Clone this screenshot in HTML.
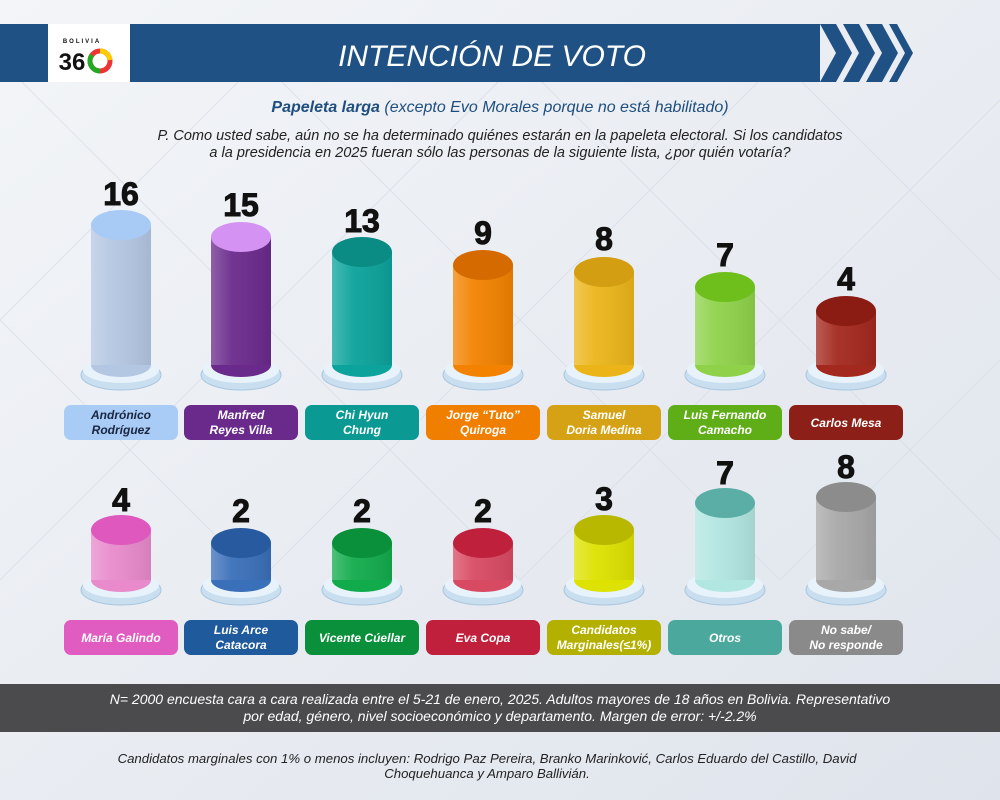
<!DOCTYPE html>
<html><head><meta charset="utf-8"><style>
body{margin:0;width:1000px;height:800px;overflow:hidden;background:#e9edf3;font-family:"Liberation Sans",sans-serif}
svg{display:block}
.n{font:900 32px "Liberation Sans",sans-serif;fill:#111;text-anchor:middle;stroke:#111;stroke-width:1}
.l{font:italic bold 12px "Liberation Sans",sans-serif;fill:#fff;text-anchor:middle}
</style></head><body>
<svg width="1000" height="800" viewBox="0 0 1000 800">
<defs>
<linearGradient id="bg" x1="0" y1="0" x2="1" y2="1"><stop offset="0" stop-color="#f3f5f8"/><stop offset="1" stop-color="#dfe4ec"/></linearGradient>
<linearGradient id="sh" x1="0" x2="1"><stop offset="0" stop-color="#fff" stop-opacity=".25"/><stop offset=".35" stop-color="#fff" stop-opacity=".05"/><stop offset="1" stop-color="#000" stop-opacity=".08"/></linearGradient>
</defs>
<rect width="1000" height="800" fill="url(#bg)"/>
<g stroke="#d6dce6" stroke-width="1" opacity=".7">
<path d="M0 60L260 320 M0 320L260 60 M260 60L520 320 M260 320L520 60 M520 60L780 320 M520 320L780 60 M780 60L1040 320 M780 320L1040 60 M0 320L260 580 M0 580L260 320 M260 320L520 580 M260 580L520 320 M520 320L780 580 M520 580L780 320 M780 320L1040 580 M780 580L1040 320"/>
</g>
<rect x="0" y="24" width="820" height="58" fill="#1f5184"/>
<polygon points="820,24 836,24 852,53 836,82 820,82 836,53" fill="#1f5184"/>
<polygon points="843,24 859,24 875,53 859,82 843,82 859,53" fill="#1f5184"/>
<polygon points="866,24 882,24 898,53 882,82 866,82 882,53" fill="#1f5184"/>
<polygon points="889,24 897,24 913,53 897,82 889,82 905,53" fill="#1f5184"/>
<rect x="48" y="24" width="82" height="58" fill="#fff"/>
<text x="82" y="43" style="font:bold 6px 'Liberation Sans';letter-spacing:2px" text-anchor="middle" fill="#111">BOLIVIA</text>
<text x="72" y="70" style="font:900 24px 'Liberation Sans'" text-anchor="middle" fill="#111">36</text>
<circle cx="100" cy="61" r="10" fill="none" stroke="#e33" stroke-width="5"/>
<path d="M92 55 A10 10 0 0 0 100 71" fill="none" stroke="#2a2" stroke-width="5"/>
<path d="M100 51 A10 10 0 0 1 110 60" fill="none" stroke="#fc0" stroke-width="5"/>
<text x="492" y="66" style="font:italic 30px 'Liberation Sans'" text-anchor="middle" fill="#fff">INTENCIÓN DE VOTO</text>
<text x="500" y="112" text-anchor="middle" style="font:italic 16px 'Liberation Sans'" fill="#1f4e7e"><tspan font-weight="bold">Papeleta larga</tspan> (excepto Evo Morales porque no está habilitado)</text>
<text x="500" y="140" text-anchor="middle" style="font:italic 14.5px 'Liberation Sans'" fill="#222">P. Como usted sabe, aún no se ha determinado quiénes estarán en la papeleta electoral. Si los candidatos</text>
<text x="500" y="157" text-anchor="middle" style="font:italic 14.5px 'Liberation Sans'" fill="#222">a la presidencia en 2025 fueran sólo las personas de la siguiente lista, ¿por quién votaría?</text>

<g>
<g fill="#c9dff0" stroke="#a9c6de">
<ellipse cx="121" cy="375" rx="40" ry="15"/><ellipse cx="241" cy="375" rx="40" ry="15"/><ellipse cx="362" cy="375" rx="40" ry="15"/><ellipse cx="483" cy="375" rx="40" ry="15"/><ellipse cx="604" cy="375" rx="40" ry="15"/><ellipse cx="725" cy="375" rx="40" ry="15"/><ellipse cx="846" cy="375" rx="40" ry="15"/>
<ellipse cx="121" cy="590" rx="40" ry="15"/><ellipse cx="241" cy="590" rx="40" ry="15"/><ellipse cx="362" cy="590" rx="40" ry="15"/><ellipse cx="483" cy="590" rx="40" ry="15"/><ellipse cx="604" cy="590" rx="40" ry="15"/><ellipse cx="725" cy="590" rx="40" ry="15"/><ellipse cx="846" cy="590" rx="40" ry="15"/>
</g>
<g fill="#e8f2fa">
<ellipse cx="121" cy="370" rx="38" ry="13"/><ellipse cx="241" cy="370" rx="38" ry="13"/><ellipse cx="362" cy="370" rx="38" ry="13"/><ellipse cx="483" cy="370" rx="38" ry="13"/><ellipse cx="604" cy="370" rx="38" ry="13"/><ellipse cx="725" cy="370" rx="38" ry="13"/><ellipse cx="846" cy="370" rx="38" ry="13"/>
<ellipse cx="121" cy="585" rx="38" ry="13"/><ellipse cx="241" cy="585" rx="38" ry="13"/><ellipse cx="362" cy="585" rx="38" ry="13"/><ellipse cx="483" cy="585" rx="38" ry="13"/><ellipse cx="604" cy="585" rx="38" ry="13"/><ellipse cx="725" cy="585" rx="38" ry="13"/><ellipse cx="846" cy="585" rx="38" ry="13"/>
</g>
</g>
<g>
<rect x="91" y="225" width="60" height="140" fill="#b4c7e2"/><ellipse cx="121" cy="365" rx="30" ry="12" fill="#b4c7e2"/><rect x="91" y="225" width="60" height="140" fill="url(#sh)"/><ellipse cx="121" cy="225" rx="30" ry="15" fill="#a8cbf6"/>
<rect x="211" y="237" width="60" height="128" fill="#6a2a8c"/><ellipse cx="241" cy="365" rx="30" ry="12" fill="#6a2a8c"/><rect x="211" y="237" width="60" height="128" fill="url(#sh)"/><ellipse cx="241" cy="237" rx="30" ry="15" fill="#d492f2"/>
<rect x="332" y="252" width="60" height="113" fill="#0ba39b"/><ellipse cx="362" cy="365" rx="30" ry="12" fill="#0ba39b"/><rect x="332" y="252" width="60" height="113" fill="url(#sh)"/><ellipse cx="362" cy="252" rx="30" ry="15" fill="#0a8c85"/>
<rect x="453" y="265" width="60" height="100" fill="#f28200"/><ellipse cx="483" cy="365" rx="30" ry="12" fill="#f28200"/><rect x="453" y="265" width="60" height="100" fill="url(#sh)"/><ellipse cx="483" cy="265" rx="30" ry="15" fill="#d56b00"/>
<rect x="574" y="272" width="60" height="93" fill="#ebb51a"/><ellipse cx="604" cy="365" rx="30" ry="12" fill="#ebb51a"/><rect x="574" y="272" width="60" height="93" fill="url(#sh)"/><ellipse cx="604" cy="272" rx="30" ry="15" fill="#d39e12"/>
<rect x="695" y="287" width="60" height="78" fill="#8fd24a"/><ellipse cx="725" cy="365" rx="30" ry="12" fill="#8fd24a"/><rect x="695" y="287" width="60" height="78" fill="url(#sh)"/><ellipse cx="725" cy="287" rx="30" ry="15" fill="#6ebf1c"/>
<rect x="816" y="311" width="60" height="54" fill="#a3281e"/><ellipse cx="846" cy="365" rx="30" ry="12" fill="#a3281e"/><rect x="816" y="311" width="60" height="54" fill="url(#sh)"/><ellipse cx="846" cy="311" rx="30" ry="15" fill="#8a1c14"/>
</g>
<g>
<rect x="91" y="530" width="60" height="50" fill="#e88acc"/><ellipse cx="121" cy="580" rx="30" ry="12" fill="#e88acc"/><rect x="91" y="530" width="60" height="50" fill="url(#sh)"/><ellipse cx="121" cy="530" rx="30" ry="15" fill="#de58bd"/>
<rect x="211" y="543" width="60" height="37" fill="#3a6fb9"/><ellipse cx="241" cy="580" rx="30" ry="12" fill="#3a6fb9"/><rect x="211" y="543" width="60" height="37" fill="url(#sh)"/><ellipse cx="241" cy="543" rx="30" ry="15" fill="#275a9e"/>
<rect x="332" y="543" width="60" height="37" fill="#12ab4c"/><ellipse cx="362" cy="580" rx="30" ry="12" fill="#12ab4c"/><rect x="332" y="543" width="60" height="37" fill="url(#sh)"/><ellipse cx="362" cy="543" rx="30" ry="15" fill="#0a8f3a"/>
<rect x="453" y="543" width="60" height="37" fill="#d84a62"/><ellipse cx="483" cy="580" rx="30" ry="12" fill="#d84a62"/><rect x="453" y="543" width="60" height="37" fill="url(#sh)"/><ellipse cx="483" cy="543" rx="30" ry="15" fill="#bf213d"/>
<rect x="574" y="530" width="60" height="50" fill="#dde200"/><ellipse cx="604" cy="580" rx="30" ry="12" fill="#dde200"/><rect x="574" y="530" width="60" height="50" fill="url(#sh)"/><ellipse cx="604" cy="530" rx="30" ry="15" fill="#b8b800"/>
<rect x="695" y="503" width="60" height="77" fill="#b2e6e0"/><ellipse cx="725" cy="580" rx="30" ry="12" fill="#b2e6e0"/><rect x="695" y="503" width="60" height="77" fill="url(#sh)"/><ellipse cx="725" cy="503" rx="30" ry="15" fill="#5aaea6"/>
<rect x="816" y="497" width="60" height="83" fill="#a8a8a8"/><ellipse cx="846" cy="580" rx="30" ry="12" fill="#a8a8a8"/><rect x="816" y="497" width="60" height="83" fill="url(#sh)"/><ellipse cx="846" cy="497" rx="30" ry="15" fill="#8c8c8c"/>
</g>
<text class="n" x="121" y="205">16</text><text class="n" x="241" y="216">15</text><text class="n" x="362" y="232">13</text><text class="n" x="483" y="244">9</text><text class="n" x="604" y="250">8</text><text class="n" x="725" y="266">7</text><text class="n" x="846" y="290">4</text>
<text class="n" x="121" y="511">4</text><text class="n" x="241" y="522">2</text><text class="n" x="362" y="522">2</text><text class="n" x="483" y="522">2</text><text class="n" x="604" y="510">3</text><text class="n" x="725" y="484">7</text><text class="n" x="846" y="478">8</text>
<rect x="64" y="405" width="114" height="35" rx="7" fill="#a9ccf6"/><text class="l" x="121" y="419" style="fill:#1a2540">Andrónico</text><text class="l" x="121" y="434" style="fill:#1a2540">Rodríguez</text>
<rect x="184" y="405" width="114" height="35" rx="7" fill="#6a2a8c"/><text class="l" x="241" y="419">Manfred</text><text class="l" x="241" y="434">Reyes Villa</text>
<rect x="305" y="405" width="114" height="35" rx="7" fill="#0a9a93"/><text class="l" x="362" y="419">Chi Hyun</text><text class="l" x="362" y="434">Chung</text>
<rect x="426" y="405" width="114" height="35" rx="7" fill="#f07f00"/><text class="l" x="483" y="419">Jorge “Tuto”</text><text class="l" x="483" y="434">Quiroga</text>
<rect x="547" y="405" width="114" height="35" rx="7" fill="#d6a215"/><text class="l" x="604" y="419">Samuel</text><text class="l" x="604" y="434">Doria Medina</text>
<rect x="668" y="405" width="114" height="35" rx="7" fill="#5fae18"/><text class="l" x="725" y="419">Luis Fernando</text><text class="l" x="725" y="434">Camacho</text>
<rect x="789" y="405" width="114" height="35" rx="7" fill="#8c2018"/><text class="l" x="846" y="427">Carlos Mesa</text>
<rect x="64" y="620" width="114" height="35" rx="7" fill="#e05cc0"/><text class="l" x="121" y="642">María Galindo</text>
<rect x="184" y="620" width="114" height="35" rx="7" fill="#1f5a9c"/><text class="l" x="241" y="634">Luis Arce</text><text class="l" x="241" y="649">Catacora</text>
<rect x="305" y="620" width="114" height="35" rx="7" fill="#0a8f3a"/><text class="l" x="362" y="642">Vicente Cúellar</text>
<rect x="426" y="620" width="114" height="35" rx="7" fill="#c0203c"/><text class="l" x="483" y="642">Eva Copa</text>
<rect x="547" y="620" width="114" height="35" rx="7" fill="#b4b000"/><text class="l" x="604" y="634">Candidatos</text><text class="l" x="604" y="649">Marginales(≤1%)</text>
<rect x="668" y="620" width="114" height="35" rx="7" fill="#4aa89c"/><text class="l" x="725" y="642">Otros</text>
<rect x="789" y="620" width="114" height="35" rx="7" fill="#8a8a8a"/><text class="l" x="846" y="634">No sabe/</text><text class="l" x="846" y="649">No responde</text>
<rect x="0" y="684" width="1000" height="48" fill="#4b4b4d"/>
<text x="500" y="704" text-anchor="middle" style="font:italic 14px 'Liberation Sans'" fill="#fff">N= 2000 encuesta cara a cara realizada entre el 5-21 de enero, 2025. Adultos mayores de 18 años en Bolivia. Representativo</text>
<text x="500" y="721" text-anchor="middle" style="font:italic 14px 'Liberation Sans'" fill="#fff">por edad, género, nivel socioeconómico y departamento. Margen de error: +/-2.2%</text>
<text x="487" y="763" text-anchor="middle" style="font:italic 13.2px 'Liberation Sans'" fill="#222">Candidatos marginales con 1% o menos incluyen: Rodrigo Paz Pereira, Branko Marinković, Carlos Eduardo del Castillo, David</text>
<text x="487" y="778" text-anchor="middle" style="font:italic 13.2px 'Liberation Sans'" fill="#222">Choquehuanca y Amparo Ballivián.</text>
</svg>
</body></html>
